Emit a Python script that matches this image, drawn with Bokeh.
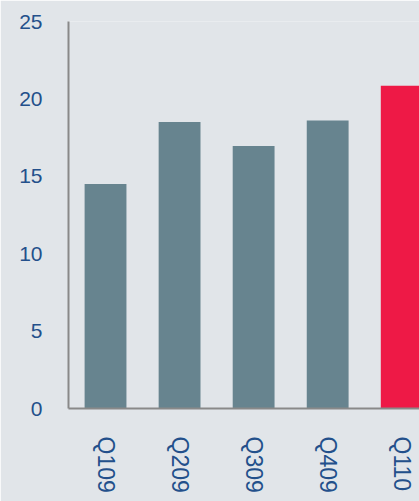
import math
from bokeh.plotting import figure
from bokeh.models import Range1d, FixedTicker
from bokeh.embed import file_html
from bokeh.resources import INLINE

categories = ["Q109", "Q209", "Q309", "Q409", "Q110"]
values = [14.5, 18.5, 16.95, 18.6, 20.85]
bar_colors = ["#67848f", "#67848f", "#67848f", "#67848f", "#ee1946"]
y_ticks = [0, 5, 10, 15, 20, 25]

xs = [i + 0.5 for i in range(len(categories))]

p = figure(width=419, height=501, output_backend="svg", toolbar_location=None,
           x_range=Range1d(0, 4.74), y_range=Range1d(0, 25),
           min_border_left=68, min_border_right=0, min_border_top=21,
           min_border_bottom=93)
p.background_fill_color = "#e1e5e9"
p.border_fill_color = "#e1e5e9"
p.outline_line_color = None
p.grid.visible = False

p.vbar(x=xs, top=values, width=0.565, bottom=0, color=bar_colors, line_color=None)

text_color = "#23508b"
for ax in (p.xaxis[0], p.yaxis[0]):
    ax.axis_line_color = "#898989"
    ax.axis_line_width = 2
    ax.major_tick_line_color = None
    ax.minor_tick_line_color = None
    ax.major_label_text_color = text_color
    ax.major_label_text_font = "Liberation Sans"

p.yaxis.major_label_text_font_size = "21px"
p.xaxis.major_label_text_font_size = "23px"

p.yaxis.ticker = FixedTicker(ticks=y_ticks)
p.yaxis.major_label_standoff = 20

p.xaxis.ticker = FixedTicker(ticks=xs)
p.xaxis.major_label_overrides = {x: c for x, c in zip(xs, categories)}
p.xaxis.major_label_orientation = -math.pi / 2
p.xaxis.major_label_standoff = 22

open("out.html", "w").write(file_html(p, INLINE))
